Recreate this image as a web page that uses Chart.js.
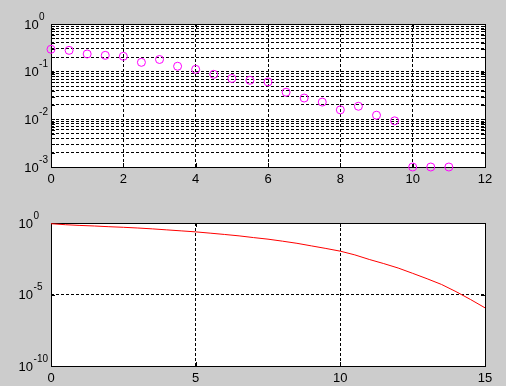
<!DOCTYPE html>
<html><head><meta charset="utf-8">
<script src="https://cdn.jsdelivr.net/npm/chart.js@4"></script>
<style>
html,body{margin:0;padding:0;background:#cccccc;width:506px;height:386px;overflow:hidden}
canvas{position:absolute;left:0}
#c1{top:0}
#c2{top:193px}
</style></head><body>
<canvas id="c1" width="506" height="193"></canvas>
<canvas id="c2" width="506" height="193"></canvas>
<script>
// ---- data ----
const topX = [0,0.5,1,1.5,2,2.5,3,3.5,4,4.5,5,5.5,6,6.5,7,7.5,8,8.5,9,9.5,10,10.5,11];
const topY = [0.295,0.28,0.235,0.22,0.21,0.157,0.18,0.13,0.112,0.088,0.072,0.066,0.061,0.037,0.028,0.023,0.0158,0.0188,0.0122,0.0093,0.001,0.001,0.001];

const botX = [0,0.5,1,1.5,2,2.5,3,3.5,4,4.5,5,5.5,6,6.5,7,7.5,8,8.5,9,9.5,10,10.5,11,11.5,12,12.5,13,13.5,14,14.5,15];
const botY = [0.891,0.759,0.676,0.617,0.550,0.501,0.447,0.389,0.331,0.282,0.240,0.195,0.158,0.126,0.0955,0.0741,0.0537,0.0380,0.0251,0.0166,0.0107,5.9e-3,2.82e-3,1.45e-3,7.08e-4,3.02e-4,1.26e-4,5.01e-5,1.58e-5,4.47e-6,1.17e-6];

// ---- tick labels ----
const topXTicks = [0,2,4,6,8,10,12];
const topYDecades = [-3,-2,-1,0];
const botXTicks = [0,5,10,15];
const botYDecades = [-10,-5,0];
const logMinorSteps = [2,3,4,5,6,7,8,9];

function gridValues(decades, minor) {
  const out = [];
  decades.forEach((d, i) => {
    out.push(Math.pow(10, d));
    if (minor && i < decades.length - 1) {
      logMinorSteps.forEach(m => out.push(m * Math.pow(10, d)));
    }
  });
  return out;
}

const FONT = '"Liberation Sans", Arial, Helvetica, sans-serif';

function framePlugin(cfg) {
  return {
    id: 'frame',
    beforeDraw(chart) {
      const a = chart.chartArea, ctx = chart.ctx;
      ctx.save();
      ctx.fillStyle = '#ffffff';
      ctx.fillRect(a.left, a.top, a.right - a.left, a.bottom - a.top);
      ctx.restore();
    },
    beforeDatasetsDraw(chart) {
      const a = chart.chartArea, ctx = chart.ctx;
      const xs = chart.scales.x, ys = chart.scales.y;
      ctx.save();
      ctx.strokeStyle = '#000';
      ctx.lineWidth = 1;
      ctx.setLineDash([]);
      ctx.strokeRect(a.left + 0.5, a.top + 0.5, a.right - a.left, a.bottom - a.top);
      const L = 4;
      ctx.beginPath();
      cfg.xTicks.forEach(v => {
        const px = Math.round(xs.getPixelForValue(v)) + 0.5;
        ctx.moveTo(px, a.bottom); ctx.lineTo(px, a.bottom - L);
        ctx.moveTo(px, a.top); ctx.lineTo(px, a.top + L);
      });
      cfg.yGrid.forEach(v => {
        const py = Math.round(ys.getPixelForValue(v)) + 0.5;
        ctx.moveTo(a.left, py); ctx.lineTo(a.left + L, py);
        ctx.moveTo(a.right, py); ctx.lineTo(a.right - L, py);
      });
      ctx.stroke();
      ctx.restore();
    },
    afterDraw(chart) {
      const a = chart.chartArea, ctx = chart.ctx;
      const xs = chart.scales.x, ys = chart.scales.y;
      ctx.save();
      ctx.fillStyle = '#000';
      // x labels
      ctx.font = '13px ' + FONT;
      ctx.textAlign = 'center';
      ctx.textBaseline = 'alphabetic';
      cfg.xTicks.forEach(v => {
        ctx.fillText(String(v), xs.getPixelForValue(v), a.bottom + 15.5);
      });
      // y labels: 10 with superscript exponent
      ctx.textAlign = 'left';
      ctx.font = '13px ' + FONT;
      const wBase = ctx.measureText('10').width;
      ctx.font = '10px ' + FONT;
      let maxW = 0;
      cfg.yDecades.forEach(d => { maxW = Math.max(maxW, wBase + 0.5 + ctx.measureText(String(d)).width); });
      const leftX = a.left - 3 - maxW;
      cfg.yDecades.forEach(d => {
        const py = ys.getPixelForValue(Math.pow(10, d));
        ctx.font = '13px ' + FONT;
        ctx.fillText('10', leftX, py + 4.5);
        ctx.font = '10px ' + FONT;
        ctx.fillText(String(d), leftX + wBase + 0.5, py - 4.5);
      });
      ctx.restore();
    }
  };
}

function makeChart(id, cfg) {
  const yGrid = gridValues(cfg.yDecades, cfg.minor);
  cfg.yGrid = yGrid;
  return new Chart(document.getElementById(id), {
    type: 'scatter',
    data: { datasets: [cfg.dataset] },
    options: {
      responsive: false,
      animation: false,
      devicePixelRatio: 1,
      layout: { padding: cfg.padding },
      plugins: { legend: { display: false }, tooltip: { enabled: false } },
      scales: {
        x: {
          type: 'linear', min: cfg.xTicks[0], max: cfg.xTicks[cfg.xTicks.length - 1],
          ticks: { display: false },
          grid: { color: '#000000', lineWidth: 1, drawTicks: false },
          border: { display: false, dash: [3, 2] },
          afterBuildTicks: s => { s.ticks = cfg.xTicks.map(v => ({ value: v })); },
          afterFit: s => { s.height = 0; }
        },
        y: {
          type: 'logarithmic',
          min: Math.pow(10, cfg.yDecades[0]),
          max: Math.pow(10, cfg.yDecades[cfg.yDecades.length - 1]),
          ticks: { display: false },
          grid: { color: '#000000', lineWidth: 1, drawTicks: false },
          border: { display: false, dash: [3, 2] },
          afterBuildTicks: s => { s.ticks = yGrid.map(v => ({ value: v })); },
          afterFit: s => { s.width = 0; }
        }
      }
    },
    plugins: [framePlugin(cfg)]
  });
}

makeChart('c1', {
  xTicks: topXTicks,
  yDecades: topYDecades,
  minor: true,
  padding: { left: 51, right: 21, top: 24, bottom: 26 },
  dataset: {
    data: topX.map((x, i) => ({ x: x, y: topY[i] })),
    showLine: false,
    pointStyle: 'circle',
    pointRadius: 4,
    pointBorderWidth: 1,
    pointBorderColor: '#ff00ff',
    pointBackgroundColor: 'rgba(0,0,0,0)',
    clip: false
  }
});

makeChart('c2', {
  xTicks: botXTicks,
  yDecades: botYDecades,
  minor: false,
  padding: { left: 51, right: 21, top: 30, bottom: 20 },
  dataset: {
    data: botX.map((x, i) => ({ x: x, y: botY[i] })),
    showLine: true,
    borderColor: '#ff0000',
    borderWidth: 1,
    pointRadius: 0,
    tension: 0,
    fill: false
  }
});
</script>
</body></html>
